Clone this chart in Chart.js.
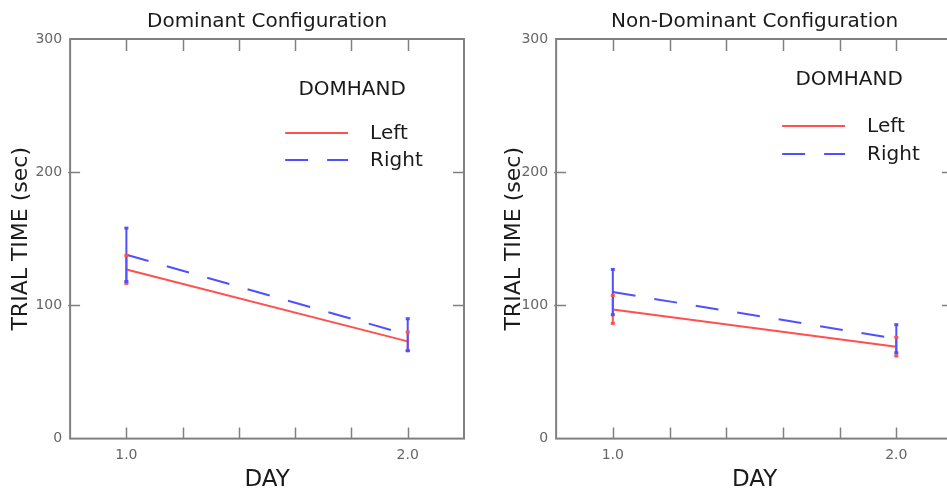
<!DOCTYPE html>
<html>
<head>
<meta charset="utf-8">
<script src="https://cdn.jsdelivr.net/npm/chart.js@4.4.0/dist/chart.umd.min.js"></script>
<style>
  html, body { margin: 0; padding: 0; background: #fff; overflow: hidden; }
  .wrap { position: relative; width: 947px; height: 491px; overflow: hidden; }
  #dominant { position: absolute; left: 0; top: 0; }
  #nondominant { position: absolute; left: 480px; top: 0; }
</style>
</head>
<body>
<div class="wrap">
  <canvas id="dominant" width="480" height="491"></canvas>
  <canvas id="nondominant" width="490" height="491"></canvas>
</div>
<script>
// data
const days = [1.0, 2.0];
const labelledDays = [1, 2];
const yTickValues = [0, 100, 200, 300];

const domLeft = [127, 73];
const domLeftErr = [10.5, 7];
const domRight = [138, 78];
const domRightErr = [20, 12];

const nonLeft = [97, 69];
const nonLeftErr = [10.5, 7];
const nonRight = [110, 75];
const nonRightErr = [17, 10.5];

const seriesNames = ['Left', 'Right'];
const legendTitle = 'DOMHAND';

const RED = 'rgb(255, 80, 80)';
const BLUE = 'rgb(80, 80, 255)';
const FRAME = '#808080';
const FONT = "'DejaVu Sans', 'Liberation Sans', Arial, sans-serif";

// frame round the plot with inward ticks on all four sides
const frameTicks = {
  id: 'frameTicks',
  afterDraw(chart) {
    const ctx = chart.ctx;
    const {left, right, top, bottom} = chart.chartArea;
    const xs = chart.scales.x, ys = chart.scales.y;
    ctx.save();
    ctx.strokeStyle = FRAME;
    ctx.lineWidth = 1.5;
    xs.ticks.forEach(t => {
      if (t.value <= xs.min + 1e-6 || t.value >= xs.max - 1e-6) return;
      const px = Math.round(xs.getPixelForValue(t.value)) + 0.5;
      ctx.beginPath();
      ctx.moveTo(px, bottom); ctx.lineTo(px, bottom - 11);
      ctx.moveTo(px, top); ctx.lineTo(px, top + 12);
      ctx.stroke();
    });
    ys.ticks.forEach(t => {
      if (t.value <= ys.min || t.value >= ys.max) return;
      const py = Math.round(ys.getPixelForValue(t.value)) + 0.5;
      ctx.beginPath();
      ctx.moveTo(left - 2, py); ctx.lineTo(left + 10, py);
      ctx.moveTo(right, py); ctx.lineTo(right - 11, py);
      ctx.stroke();
    });
    ctx.lineWidth = 2;
    ctx.strokeRect(left, top, right - left, bottom - top);
    ctx.restore();
  }
};

// vertical error bars with small caps
const errorBars = {
  id: 'errorBars',
  afterDatasetsDraw(chart) {
    const ctx = chart.ctx;
    const xs = chart.scales.x, ys = chart.scales.y;
    const caps = [];
    ctx.save();
    chart.data.datasets.forEach(ds => {
      ctx.strokeStyle = ds.borderColor;
      ctx.lineWidth = 2;
      ds.data.forEach((p, i) => {
        const px = xs.getPixelForValue(p.x);
        const hi = ys.getPixelForValue(p.y + ds.errors[i]);
        const lo = ys.getPixelForValue(p.y - ds.errors[i]);
        ctx.beginPath();
        ctx.moveTo(px, hi); ctx.lineTo(px, lo);
        ctx.stroke();
        caps.push([px, hi, ds.borderColor], [px, lo, ds.borderColor]);
      });
    });
    caps.forEach(c => {
      ctx.fillStyle = c[2];
      ctx.fillRect(c[0] - 2, c[1] - 1.5, 4, 3);
    });
    ctx.restore();
  }
};

// legend box inside the plot
const legendInside = {
  id: 'legendInside',
  afterDraw(chart, args, opts) {
    const ctx = chart.ctx;
    const {left, top} = chart.chartArea;
    ctx.save();
    ctx.fillStyle = '#1a1a1a';
    ctx.textBaseline = 'middle';
    ctx.textAlign = 'center';
    ctx.font = '20px ' + FONT;
    ctx.fillText(legendTitle, left + opts.titleX, top + opts.titleY);
    ctx.textAlign = 'left';
    chart.data.datasets.forEach((ds, i) => {
      const y = top + opts.rowY[i];
      ctx.strokeStyle = ds.borderColor;
      ctx.lineWidth = 2;
      ctx.setLineDash(ds.borderDash || []);
      ctx.beginPath();
      ctx.moveTo(left + opts.lineX0, y);
      ctx.lineTo(left + opts.lineX1, y);
      ctx.stroke();
      ctx.setLineDash([]);
      ctx.fillText(ds.label, left + opts.textX, y + 1);
    });
    ctx.restore();
  }
};

function points(vals) {
  return days.map((d, i) => ({x: d, y: vals[i]}));
}

function makeChart(id, title, left, leftErr, right, rightErr, lay) {
  return new Chart(document.getElementById(id).getContext('2d'), {
    type: 'line',
    data: {
      datasets: [{
        label: seriesNames[0],
        data: points(left),
        errors: leftErr,
        borderColor: RED,
        borderWidth: 2,
        pointRadius: 0,
        fill: false
      }, {
        label: seriesNames[1],
        data: points(right),
        errors: rightErr,
        borderColor: BLUE,
        borderWidth: 2,
        borderDash: [23, 19],
        pointRadius: 0,
        fill: false
      }]
    },
    options: {
      responsive: false,
      animation: false,
      layout: {
        padding: {left: lay.padLeft, right: lay.padRight, top: 0, bottom: 0}
      },
      scales: {
        x: {
          type: 'linear',
          min: 0.8,
          max: 2.2,
          grid: {display: false, drawTicks: false},
          border: {display: false},
          ticks: {
            stepSize: 0.2,
            padding: 8,
            maxRotation: 0,
            autoSkip: false,
            color: '#666',
            font: {family: FONT, size: 14},
            callback: (v) => {
              const hit = labelledDays.find(d => Math.abs(d - v) < 1e-6);
              return hit !== undefined ? hit.toFixed(1) : '';
            }
          },
          title: {
            display: true,
            text: 'DAY',
            color: '#1a1a1a',
            font: {family: FONT, size: 23},
            padding: {top: -5, bottom: -3}
          }
        },
        y: {
          min: 0,
          max: 300,
          grid: {display: false, drawTicks: false},
          border: {display: false},
          afterBuildTicks: (scale) => {
            scale.ticks = yTickValues.map(v => ({value: v}));
          },
          ticks: {
            padding: 8,
            color: '#666',
            font: {family: FONT, size: 14}
          },
          title: {
            display: true,
            text: 'TRIAL TIME (sec)',
            color: '#1a1a1a',
            font: {family: FONT, size: 22},
            padding: {top: 0, bottom: lay.titleGap}
          }
        }
      },
      plugins: {
        legend: {display: false},
        tooltip: {enabled: false},
        title: {
          display: true,
          text: title,
          fullSize: false,
          color: '#1a1a1a',
          font: {family: FONT, size: 20, weight: 'normal'},
          padding: {top: 10, bottom: 5}
        },
        legendInside: lay.legend
      }
    },
    plugins: [frameTicks, errorBars, legendInside]
  });
}

makeChart('dominant', 'Dominant Configuration', domLeft, domLeftErr, domRight, domRightErr, {
  padLeft: 8, padRight: 16, titleGap: -7,
  legend: {titleX: 282, titleY: 51, lineX0: 215, lineX1: 278, textX: 300, rowY: [94, 121]}
});

makeChart('nondominant', 'Non-Dominant Configuration', nonLeft, nonLeftErr, nonRight, nonRightErr, {
  padLeft: 21, padRight: 17, titleGap: -14,
  legend: {titleX: 293, titleY: 41, lineX0: 226, lineX1: 289, textX: 311, rowY: [87, 115]}
});
</script>
</body>
</html>
